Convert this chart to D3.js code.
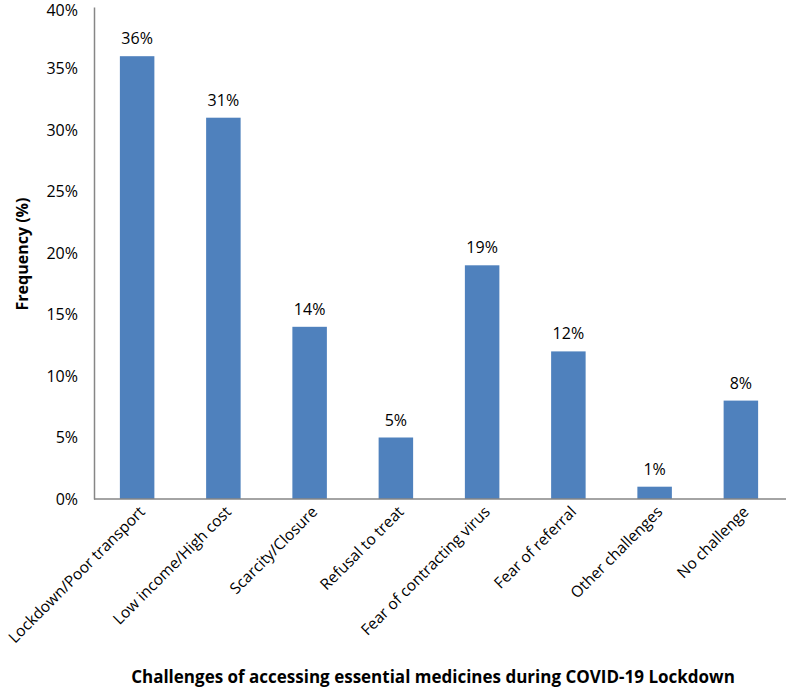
<!DOCTYPE html>
<html><head><meta charset="utf-8">
<script src="https://cdn.jsdelivr.net/npm/d3@7"></script>
<style>body{margin:0;background:#fff}</style>
</head><body>
<svg id="c" width="786" height="688"></svg>
<script>
const categories = ["Lockdown/Poor transport","Low income/High cost","Scarcity/Closure","Refusal to treat","Fear of contracting virus","Fear of referral","Other challenges","No challenge"];
const values = [36, 31, 14, 5, 19, 12, 1, 8];
const yTicks = [0,5,10,15,20,25,30,35,40];

const svg = d3.select("#c");
const font = "'Open Sans', Lato, sans-serif";
const x0 = 94, x1 = 784, yb = 499, yt = 7;
const x = d3.scaleBand().domain(categories).range([x0, x1]).paddingInner(0.6).paddingOuter(0.3);
const y = d3.scaleLinear().domain([0, 40]).range([yb, yt]);

svg.selectAll("rect.bar").data(values).join("rect")
  .attr("x", (d,i)=>x(categories[i])).attr("width", x.bandwidth())
  .attr("y", d=>y(d)).attr("height", d=>yb-y(d)).attr("fill", "#4f81bd");

const ya = svg.append("g").attr("transform", `translate(${x0},0)`)
  .call(d3.axisLeft(y).tickValues(yTicks).tickSize(0).tickPadding(16).tickFormat(d=>d+"%"));
ya.select(".domain").attr("stroke", "#868686").attr("stroke-width", 1.5);
ya.selectAll("text").attr("font-family", font).attr("font-size", 16).attr("fill", "#000");
ya.selectAll(".tick").filter(d=>d===40).select("text").attr("dy", "0.55em");

const xa = svg.append("g").attr("transform", `translate(0,${yb})`)
  .call(d3.axisBottom(x).tickSize(0).tickPadding(0));
xa.select(".domain").attr("stroke", "#868686").attr("stroke-width", 1.5).attr("d", `M${x0},0H786`);
xa.selectAll("text").attr("font-family", font).attr("font-size", 15.5).attr("fill", "#000")
  .attr("text-anchor", "end").attr("dy", "0.35em")
  .attr("transform", "translate(5,10) rotate(-45)");

svg.selectAll("text.lbl").data(values).join("text").attr("class","lbl")
  .attr("x", (d,i)=>x(categories[i]) + x.bandwidth()/2).attr("y", d=>y(d) - 12)
  .attr("text-anchor", "middle").attr("font-family", font).attr("font-size", 16)
  .text(d=>d+"%");

svg.append("text").attr("transform", "translate(28,254) rotate(-90)")
  .attr("text-anchor","middle").attr("font-family", font).attr("font-size", 16).attr("font-weight","bold")
  .text("Frequency (%)");
svg.append("text").attr("x", 433).attr("y", 683)
  .attr("text-anchor","middle").attr("font-family", font).attr("font-size", 17).attr("font-weight","bold")
  .text("Challenges of accessing essential medicines during COVID-19 Lockdown");
</script>
</body></html>
